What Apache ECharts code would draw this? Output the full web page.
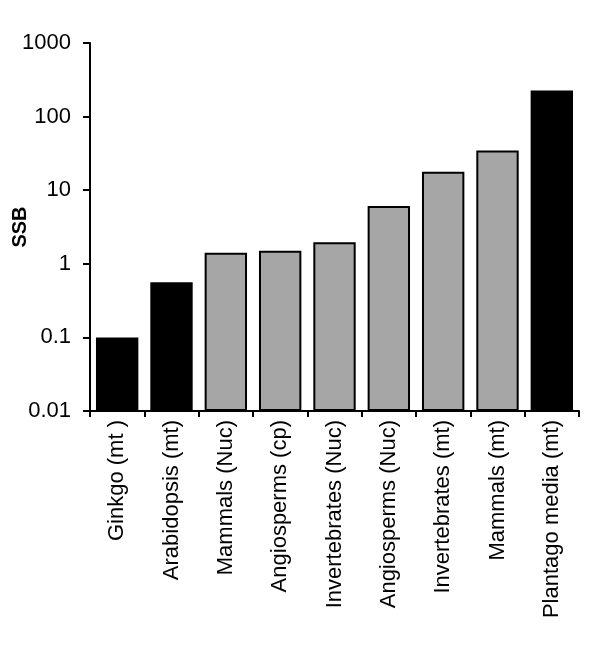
<!DOCTYPE html>
<html>
<head>
<meta charset="utf-8">
<script src="https://cdn.jsdelivr.net/npm/echarts@6/dist/echarts.min.js"></script>
<style>
  html, body { margin: 0; padding: 0; background: #fff; }
  #chart { width: 600px; height: 650px; }
</style>
</head>
<body>
<div id="chart"></div>
<script>
const categories = ['Ginkgo (mt )', 'Arabidopsis (mt)', 'Mammals (Nuc)', 'Angiosperms (cp)', 'Invertebrates (Nuc)', 'Angiosperms (Nuc)', 'Invertebrates (mt)', 'Mammals (mt)', 'Plantago media (mt)'];
const ssbValues = [0.1, 0.56, 1.41, 1.5, 1.97, 6.1, 17.8, 34.6, 227];
const groups = ['black', 'black', 'gray', 'gray', 'gray', 'gray', 'gray', 'gray', 'black'];
const yTicks = [0.01, 0.1, 1, 10, 100, 1000];

const FONT = '"Liberation Sans", Arial, sans-serif';
const chart = echarts.init(document.getElementById('chart'), null, { renderer: 'canvas' });

const data = ssbValues.map((v, i) => ({
  value: v,
  itemStyle: groups[i] === 'gray'
    ? { color: '#a6a6a6', borderColor: '#000', borderWidth: 2 }
    : { color: '#000', borderColor: '#000', borderWidth: 0 }
}));

chart.setOption({
  animation: false,
  backgroundColor: '#fff',
  grid: { left: 90, right: 21, top: 43, bottom: 239, containLabel: false, outerBoundsMode: 'none' },
  xAxis: {
    type: 'category',
    data: categories,
    boundaryGap: true,
    axisLine: { lineStyle: { color: '#000', width: 2 } },
    axisTick: { show: true, length: 6, alignWithLabel: false, lineStyle: { color: '#000', width: 2 } },
    axisLabel: { rotate: 90, interval: 0, margin: 9, color: '#000', fontFamily: FONT, fontSize: 22 },
    splitLine: { show: false }
  },
  yAxis: {
    type: 'log',
    logBase: 10,
    min: yTicks[0],
    max: yTicks[yTicks.length - 1],
    startValue: yTicks[0],
    name: 'SSB',
    nameLocation: 'middle',
    nameRotate: 90,
    nameGap: 60,
    nameMoveOverlap: false,
    nameTextStyle: { fontFamily: FONT, fontWeight: 'bold', fontSize: 20, color: '#000', verticalAlign: 'bottom' },
    axisLine: { show: true, lineStyle: { color: '#000', width: 2 } },
    axisTick: { show: true, length: 7, inside: false, lineStyle: { color: '#000', width: 2 } },
    axisLabel: {
      margin: 19, color: '#000', fontFamily: FONT, fontSize: 22,
      formatter: v => String(Number(Number(v).toPrecision(3)))
    },
    splitLine: { show: false }
  },
  series: [{
    type: 'bar',
    data: data,
    barCategoryGap: '22%'
  }]
});
</script>
</body>
</html>
